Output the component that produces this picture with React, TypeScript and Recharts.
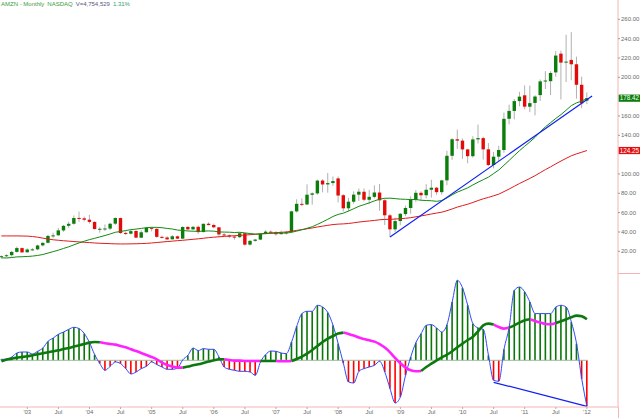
import React from 'react';
import { ComposedChart, Bar, Line, XAxis, YAxis, ReferenceLine } from 'recharts';

// ---- monthly AMZN candles, Aug 2002 .. Jan 2012 (index 0 .. 113) ----
const opens = [
  13.9, 14.9, 16.0, 19.4, 23.3,
  19.0, 21.9, 22.0, 26.1, 28.8, 36.0, 36.6, 41.6, 46.4, 48.5, 54.5, 54.1,
  52.7, 50.4, 43.1, 43.3, 43.5, 48.6, 54.4, 39.0, 38.2, 41.0, 34.1, 39.7,
  44.3, 43.2, 34.9, 34.3, 32.4, 35.5, 33.1, 45.2, 42.7, 45.3, 39.9, 48.5,
  47.2, 44.8, 37.4, 36.5, 35.2, 34.6, 38.7, 26.9, 30.8, 32.1, 38.1, 40.3,
  39.5, 37.7, 39.1, 39.8, 61.3, 69.1, 68.4, 78.5, 79.9, 93.2, 89.2, 90.6,
  95.4, 78.0, 64.5, 71.3, 78.6, 81.6, 73.3, 76.3, 80.8, 72.8, 57.2, 42.7,
  51.3, 58.5, 64.8, 73.4, 80.5, 78.0, 83.7, 85.8, 81.2, 93.4, 118.8, 135.9,
  134.5, 125.4, 118.4, 135.8, 137.1, 125.5, 109.3, 117.9, 124.8, 157.1, 165.2, 175.4,
  181.4, 169.6, 173.5, 181.6, 196.6, 196.0, 205.1, 224.5, 215.3, 218.0, 213.5, 192.3,
  175.9,
];
const highs = [
  15.8, 16.9, 20.5, 25.0, 24.0,
  23.1, 23.3, 26.9, 29.5, 37.1, 39.2, 44.2, 47.3, 50.6, 57.1, 61.1, 55.9,
  57.8, 51.0, 45.0, 47.8, 49.5, 55.0, 54.8, 40.6, 42.0, 41.9, 41.8, 45.3,
  45.0, 43.9, 36.2, 35.6, 36.8, 36.3, 45.9, 46.0, 46.2, 46.7, 48.6, 50.0,
  48.6, 45.0, 38.8, 37.4, 36.5, 39.5, 38.9, 31.5, 32.9, 38.5, 41.8, 41.5,
  40.8, 41.5, 41.0, 62.0, 73.8, 74.7, 89.3, 81.0, 94.1, 94.6, 101.1, 97.4,
  97.4, 79.2, 75.3, 82.0, 84.9, 85.0, 83.6, 88.2, 89.6, 73.9, 58.7, 55.0,
  59.6, 67.2, 77.0, 83.4, 82.0, 89.5, 94.0, 86.5, 94.0, 124.0, 137.0, 145.9,
  136.6, 126.1, 139.0, 151.1, 138.5, 132.0, 122.8, 129.2, 163.5, 171.7, 177.6, 185.0,
  191.6, 191.4, 181.5, 197.8, 206.4, 206.2, 227.2, 227.5, 244.0, 246.7, 221.4, 200.7,
  184.4,
];
const lows = [
  12.9, 13.9, 14.3, 18.6, 18.5,
  18.7, 20.6, 21.1, 25.0, 28.2, 33.8, 35.9, 40.2, 44.2, 47.5, 50.5, 50.9,
  48.6, 42.6, 39.2, 41.0, 42.0, 47.1, 38.0, 36.8, 37.4, 33.6, 33.8, 39.2,
  40.6, 34.0, 33.2, 31.6, 32.2, 32.7, 32.9, 41.6, 41.8, 38.0, 39.6, 46.8,
  43.8, 35.3, 35.7, 33.5, 32.1, 33.8, 25.8, 25.8, 29.9, 31.6, 37.5, 38.0,
  36.3, 37.5, 37.1, 39.6, 60.0, 66.7, 68.2, 68.2, 78.4, 81.0, 80.6, 87.7,
  70.6, 61.2, 61.1, 69.2, 72.0, 71.7, 68.8, 74.7, 62.0, 47.1, 34.7, 40.0,
  47.0, 56.3, 58.8, 71.0, 73.1, 74.7, 75.6, 78.4, 78.6, 88.4, 114.6, 126.0,
  115.6, 111.0, 116.9, 131.5, 114.9, 108.2, 105.8, 113.6, 121.9, 151.3, 156.5, 170.0,
  166.9, 164.0, 160.6, 175.6, 187.9, 181.6, 200.6, 177.1, 195.1, 197.0, 178.0, 168.1,
  172.2,
];
const closes = [
  14.94, 15.93, 19.36, 23.35, 18.89,
  21.85, 22.01, 26.03, 28.69, 35.89, 36.5, 41.64, 46.32, 48.43, 54.43, 54.05, 52.62,
  50.4, 43.01, 43.28, 43.6, 48.5, 54.4, 38.92, 38.14, 40.86, 34.13, 39.68, 44.29,
  43.22, 34.93, 34.27, 32.36, 35.51, 33.09, 45.15, 42.7, 45.3, 39.86, 48.46, 47.15,
  44.82, 37.44, 36.51, 35.21, 34.61, 38.68, 26.89, 30.83, 32.12, 38.09, 40.34, 39.46,
  37.67, 39.14, 39.79, 61.33, 69.14, 68.41, 78.54, 79.91, 93.15, 89.15, 90.56, 92.64,
  77.7, 64.47, 71.3, 78.63, 81.62, 73.33, 76.34, 80.81, 72.76, 57.24, 42.7, 51.28,
  58.82, 64.79, 73.44, 80.52, 77.99, 83.66, 85.76, 81.19, 93.36, 118.81, 135.91, 134.52,
  125.41, 118.4, 135.77, 137.1, 125.46, 109.26, 117.89, 124.83, 157.06, 165.23, 175.4, 180.0,
  169.64, 173.29, 180.13, 195.81, 196.69, 204.49, 222.52, 215.23, 216.23, 213.51, 192.29, 173.1,
  178.42,
];

// green (20-month) and red (50-month) moving averages
const maGreen = [
  13.17, 13.1, 13.56, 14.22, 14.37, 14.63, 15.02, 15.7, 16.69, 18.18,
  19.66, 21.18, 22.96, 24.67, 26.68, 28.67, 30.47, 32.08, 33.42, 34.88,
  36.31, 37.94, 39.69, 40.47, 41.44, 42.39, 42.99, 43.67, 44.45, 44.82,
  44.74, 44.37, 43.68, 43.03, 41.96, 41.52, 41.02, 40.77, 40.61, 40.87,
  41.05, 40.86, 40.01, 39.89, 39.75, 39.43, 39.66, 39.02, 38.35, 37.79,
  37.95, 38.26, 38.61, 38.72, 39.02, 38.75, 39.69, 40.88, 42.3, 43.81,
  45.45, 47.86, 50.45, 53.15, 56.02, 58.18, 59.47, 61.69, 64.08, 66.55,
  68.31, 70.11, 72.18, 73.94, 74.84, 74.99, 74.48, 73.97, 73.79, 73.53,
  73.56, 72.8, 72.53, 72.29, 71.72, 72.5, 75.22, 78.45, 81.24, 83.43,
  85.69, 88.66, 91.47, 94.11, 96.71, 100.47, 104.14, 109.06, 114.08, 119.18,
  124.15, 128.73, 133.21, 137.93, 143.66, 148.83, 153.11, 157.45, 161.48, 166.02,
  170.78, 173.6, 175.4, 178.05,
];
const maRed = [
  35.9, 35.9, 35.9, 35.9, 35.8, 35.7, 35.3, 34.6, 33.6, 32.7,
  31.9, 31.4, 30.9, 30.5, 30.1, 29.7, 29.3, 29.0, 28.6, 28.3,
  28.1, 27.9, 27.7, 27.6, 27.6, 27.7, 27.8, 28.0, 28.2, 28.6,
  29.1, 29.6, 30.1, 30.5, 31.0, 31.4, 31.9, 32.4, 32.9, 33.5,
  34.1, 34.6, 35.0, 35.4, 35.8, 36.1, 36.5, 36.8, 37.2, 37.59,
  38.05, 38.54, 38.94, 39.22, 39.63, 39.99, 40.77, 41.64, 42.43, 43.28,
  44.15, 45.18, 46.04, 46.88, 47.65, 48.12, 48.36, 48.77, 49.49, 50.25,
  50.85, 51.4, 51.93, 52.61, 52.99, 53.03, 53.37, 53.75, 54.16, 54.77,
  55.68, 56.56, 57.58, 58.59, 59.55, 60.51, 62.03, 63.85, 65.74, 67.28,
  68.7, 70.52, 72.52, 74.3, 75.78, 77.44, 79.16, 81.77, 84.46, 87.32,
  90.16, 92.75, 95.42, 98.27, 101.41, 104.54, 107.41, 110.47, 113.41, 116.16,
  118.84, 120.82, 122.5, 124.26,
];

// lower panel: oscillator histogram and its smoothed line
const histValues = [
  1, 1, 3.3, 7.3, 8.3, 8.3, 6.3, 9, 12.3, 19,
  22.3, 26, 28.3, 31, 33, 31.7, 26.7, 17.7, 5.7, -3.3,
  -10, -6, -1.7, -3.3, -8.3, -13.7, -11.7, -8.3, -6, -1.7,
  -4.3, -6.7, -9, -9, -7.7, 0.5, 5, 12.3, 9.7, 11.7,
  11, 11, 3.3, -6.7, -9, -10, -11, -11, -11.7, -15,
  -1.7, 5.7, 9.3, 9, 7.3, 6.7, 18.3, 34, 46.7, 49,
  49, 55, 53.3, 47.7, 35, 16.7, -3, -21.7, -22.7, -11,
  -8.3, -6.7, -5, -1, -11.7, -28.3, -42.7, -36.7, -15, 3.3,
  17.7, 26.7, 35, 35.7, 32.3, 28.3, 35.7, 58.3, 80, 72.3,
  55, 36.7, 32.3, 31, 5, -20, -21, 11, 33.3, 70,
  73.3, 68.3, 58.3, 46.7, 46.7, 46.7, 46.7, 53.3, 55, 53.3,
  38.3, 16.7, -18.5, -46,
];
const signalValues = [
  -1, 0.7, 1.7, 2.7, 3.3, 4, 5, 6, 7, 8,
  9, 10, 11.3, 12.3, 13.7, 15, 16.3, 17.7, 18.3, 18,
  17, 16.3, 15.7, 14.3, 13, 11, 9.3, 7.3, 5.3, 3.3,
  1, -2.3, -4.7, -6.3, -7.3, -7.3, -6.3, -5, -4, -2.7,
  -1.3, 0, 1, 1, 0.3, -0.3, -0.3, -0.7, -0.7, -0.7,
  -0.7, -0.7, -0.7, -0.7, -1, -1, -0.7, 1.3, 3.7, 6.7,
  10.3, 14.3, 18.3, 21.7, 24.3, 26.7, 27.7, 26.3, 24.7, 22.7,
  21.3, 20, 18.7, 16.3, 12.7, 8, 2.3, -3, -7.3, -10,
  -11, -10.7, -6.7, -3.3, 0, 3, 5.7, 9, 13, 16.7,
  20.3, 23.5, 29, 35, 36.7, 35.7, 33.3, 31.7, 32.7, 35,
  37.7, 40, 41, 39.3, 37.7, 36.3, 36, 37.3, 39, 41,
  43, 44.7, 44, 41,
];
// index ranges where the smoothed line is drawn magenta (falling)
const magentaRanges = [[19, 35], [43, 50], [53, 56], [66, 81], [95, 98], [102, 107]];

const trendUpper = [{ i: 75, v: 34.7 }, { i: 114, v: 180.6 }];
const trendLower = [{ i: 95, v: -22 }, { i: 113, v: -46 }];

const xTickIndex = [5, 11, 17, 23, 29, 35, 41, 47, 53, 59, 65, 71, 77, 83, 89, 95, 101, 107, 113];
const xTickLabels = ["'03", 'Jul', "'04", 'Jul', "'05", 'Jul', "'06", 'Jul', "'07", 'Jul', "'08", 'Jul', "'09", 'Jul', "'10", 'Jul', "'11", 'Jul', "'12"];
const priceTicks = [20, 40, 60, 80, 100, 140, 160, 200, 220, 240, 260];

const lastPrice = 178.42;
const lastRedMa = 124.25;
const titleParts = ['AMZN - Monthly', 'NASDAQ', 'V=4,754,529', '1.31%'];

// ---- tables for the library ----
const priceData = closes.map((c, i) => ({
  i, o: opens[i], h: highs[i], l: lows[i], c, g: maGreen[i], r: maRed[i],
}));
const inside = (i: number) => magentaRanges.some(([a, b]) => i > a && i < b);
const onMag = (i: number) => magentaRanges.some(([a, b]) => i >= a && i <= b);
const oscData = histValues.map((h, i) => ({
  i, h, sg: inside(i) ? null : signalValues[i], sm: onMag(i) ? signalValues[i] : null,
}));

const X_DOMAIN: [number, number] = [-0.27, 119];
const FONT = 'Liberation Sans, Arial, sans-serif';
const PINK = '#f6b4b4';

const Candle = (props: any) => {
  const { x, y, width, height, payload } = props;
  if (!payload || x == null || y == null) return null;
  const top = Math.min(y, y + height);
  const bot = Math.max(y, y + height);
  const range = payload.h - payload.l;
  const k = range > 0 ? (bot - top) / range : 0;
  const py = (v: number) => top + (payload.h - v) * k;
  const cx = x + width / 2;
  const up = payload.c >= payload.o;
  const bTop = py(Math.max(payload.o, payload.c));
  const bBot = py(Math.min(payload.o, payload.c));
  return (
    <g>
      <line x1={cx} x2={cx} y1={top} y2={bot} stroke="#b0b0b0" strokeWidth={1} />
      <rect x={cx - 1.7} y={bTop} width={3.4} height={Math.max(1, bBot - bTop)} fill={up ? '#0a7d0a' : '#e40a0a'} />
    </g>
  );
};

const HistBar = (props: any) => {
  const { x, y, width, height, payload } = props;
  if (!payload || x == null || y == null) return null;
  const top = Math.min(y, y + height);
  const bot = Math.max(y, y + height);
  const cx = x + width / 2;
  return <rect x={cx - 0.8} y={top} width={1.6} height={Math.max(0.5, bot - top)} fill={payload.h >= 0 ? '#0a760a' : '#ff0000'} />;
};

const badge = (text: string, fill: string) => (p: any) => {
  const vb = p.viewBox || {};
  const bx = (vb.x || 0) + (vb.width || 0) + 0.5;
  const by = vb.y || 0;
  return (
    <g>
      <rect x={bx} y={by - 3.6} width={22} height={7.2} fill={fill} />
      <text x={bx + 11} y={by + 2.2} textAnchor="middle" fontSize={6.3} fontFamily={FONT} fill="#ffffff">{text}</text>
    </g>
  );
};

const lineCommon = { dot: false, activeDot: false, isAnimationActive: false } as const;

export default function App() {
  return (
    <div style={{ position: 'absolute', left: 0, top: 0, width: 640, height: 418, background: '#fff', overflow: 'hidden' }}>
      <div style={{ position: 'absolute', left: 0, top: 0, pointerEvents: 'none' }}>
        <ComposedChart width={640} height={418} data={priceData} margin={{ top: 0, right: 0, bottom: 11, left: 0 }}>
          <XAxis dataKey="i" type="number" domain={X_DOMAIN} allowDataOverflow hide ticks={xTickIndex} />
          <YAxis
            yAxisId="p"
            orientation="right"
            type="number"
            width={22}
            domain={[-141.1, 280]}
            allowDataOverflow
            ticks={priceTicks}
            interval={0}
            tickFormatter={(v: number) => v.toFixed(2)}
            tick={{ fontSize: 6, fill: '#6a6a6a', fontFamily: FONT }}
            tickSize={2}
            tickMargin={1}
            tickLine={{ stroke: '#9a9a9a' }}
            axisLine={{ stroke: PINK }}
          />
          <Line yAxisId="p" dataKey="r" stroke="#e01b1b" strokeWidth={1} type="linear" {...lineCommon} />
          <Line yAxisId="p" dataKey="g" stroke="#138a13" strokeWidth={1} type="linear" {...lineCommon} />
          <Bar yAxisId="p" dataKey={(d: any) => [d.l, d.h]} barSize={5} shape={Candle} isAnimationActive={false} />
          <Line yAxisId="p" data={trendUpper} dataKey="v" stroke="#1020f0" strokeWidth={1.2} type="linear" {...lineCommon} />
          <ReferenceLine yAxisId="p" y={lastRedMa} stroke="none" label={{ content: badge(lastRedMa.toFixed(2), '#e01010') }} />
          <ReferenceLine yAxisId="p" y={lastPrice} stroke="none" label={{ content: badge(lastPrice.toFixed(2), '#0b7d0b') }} />
        </ComposedChart>
      </div>
      <div style={{ position: 'absolute', left: 0, top: 0, pointerEvents: 'none' }}>
        <ComposedChart width={640} height={418} data={oscData} margin={{ top: 0, right: 22, bottom: 0, left: 0 }}>
          <XAxis
            dataKey="i"
            type="number"
            domain={X_DOMAIN}
            allowDataOverflow
            ticks={xTickIndex}
            interval={0}
            height={11}
            tickFormatter={(v: number) => xTickLabels[xTickIndex.indexOf(v)] ?? ''}
            tick={{ fontSize: 6, fill: '#6a6a6a', fontFamily: FONT }}
            tickSize={2}
            tickMargin={1}
            tickLine={{ stroke: '#b0b0b0' }}
            axisLine={{ stroke: PINK }}
          />
          <YAxis yAxisId="o" type="number" hide domain={[-46.7, 360.3]} allowDataOverflow />
          <Bar yAxisId="o" dataKey="h" barSize={5} shape={HistBar} isAnimationActive={false} />
          <ReferenceLine yAxisId="o" segment={[{ x: 0, y: 0 }, { x: 113, y: 0 }]} stroke="#9dbb9d" strokeWidth={1} />
          <Line yAxisId="o" dataKey="h" stroke="#3246ff" strokeWidth={1} type="monotone" {...lineCommon} />
          <Line yAxisId="o" dataKey="sm" stroke="#ff22ff" strokeWidth={2.6} type="monotone" connectNulls={false} {...lineCommon} />
          <Line yAxisId="o" dataKey="sg" stroke="#0d780d" strokeWidth={2.6} type="monotone" connectNulls={false} {...lineCommon} />
          <Line yAxisId="o" data={trendLower} dataKey="v" stroke="#1020f0" strokeWidth={1.2} type="linear" {...lineCommon} />
        </ComposedChart>
      </div>
      <div style={{ position: 'absolute', left: 618, top: 273, width: 22, height: 1, background: PINK }} />
      <div style={{ position: 'absolute', left: 618, top: 407, width: 1, height: 11, background: PINK }} />
      <div style={{ position: 'absolute', left: 1, top: 0, fontFamily: FONT, fontSize: 6, lineHeight: '8px', whiteSpace: 'nowrap' }}>
        <span style={{ color: '#3c9a3c' }}>{titleParts[0]}</span>
        <span style={{ color: '#3c9a3c', marginLeft: 3 }}>{titleParts[1]}</span>
        <span style={{ color: '#55557a', marginLeft: 3 }}>{titleParts[2]}</span>
        <span style={{ color: '#2f9f6f', marginLeft: 3 }}>{titleParts[3]}</span>
      </div>
    </div>
  );
}
